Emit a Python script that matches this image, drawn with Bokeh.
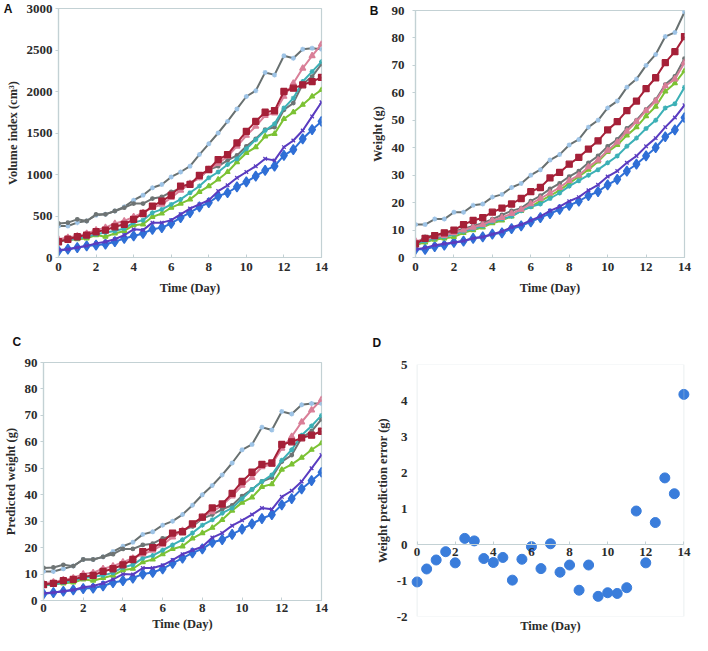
from bokeh.plotting import figure
from bokeh.models import Range1d, FixedTicker, LinearAxis, Title, BoxAnnotation
from bokeh.layouts import column, row
from bokeh.embed import file_html
from bokeh.resources import INLINE

# ---------------- data ----------------
days = [0, 0.5, 1, 1.5, 2, 2.5, 3, 3.5, 4, 4.5, 5, 5.5, 6, 6.5, 7, 7.5, 8, 8.5, 9, 9.5,
        10, 10.5, 11, 11.5, 12, 12.5, 13, 13.5, 14]
x_ticks = [0, 2, 4, 6, 8, 10, 12, 14]
vol_ticks = [0, 500, 1000, 1500, 2000, 2500, 3000]
wt_ticks = [0, 10, 20, 30, 40, 50, 60, 70, 80, 90]
err_ticks = [-2, -1, 0, 1, 2, 3, 4, 5]

# Panel A: volume index (cm3)
vol_gray_star = [380, 380, 420, 440, 510, 520, 560, 610, 690, 750, 840, 880, 970, 1030, 1100, 1240, 1370, 1500, 1640, 1790,
                 1940, 2010, 2230, 2200, 2430, 2400, 2510, 2520, 2510]
vol_gray_dot = [410, 420, 460, 440, 520, 520, 560, 600, 650, 650, 710, 730, 790, 830, 900, 960, 1060, 1100, 1170, 1230,
                1340, 1430, 1540, 1570, 1780, 1860, 2090, 2180, 2330]
vol_red = [190, 220, 250, 270, 310, 330, 370, 400, 460, 530, 620, 680, 750, 860, 880, 990, 1060, 1180, 1240, 1380,
           1520, 1640, 1750, 1770, 2000, 2040, 2080, 2120, 2170]
vol_pink = [220, 240, 260, 290, 330, 360, 410, 440, 490, 540, 600, 640, 720, 810, 890, 960, 1060, 1130, 1220, 1340,
            1470, 1580, 1710, 1740, 1940, 2100, 2280, 2430, 2570]
vol_teal = [200, 210, 230, 250, 280, 300, 320, 350, 420, 450, 540, 580, 640, 700, 780, 860, 960, 1030, 1120, 1190,
            1310, 1420, 1530, 1610, 1800, 1920, 2120, 2240, 2360]
vol_green = [200, 210, 220, 230, 270, 250, 290, 320, 390, 400, 490, 530, 600, 650, 700, 790, 860, 940, 1030, 1150,
             1260, 1330, 1460, 1490, 1670, 1750, 1840, 1940, 2020]
vol_purple = [90, 100, 120, 140, 170, 190, 220, 270, 340, 330, 420, 420, 450, 520, 590, 640, 690, 800, 870, 960,
              1030, 1100, 1190, 1170, 1330, 1410, 1530, 1700, 1870]
vol_blue = [80, 100, 120, 140, 150, 160, 190, 230, 260, 290, 340, 360, 410, 480, 540, 610, 660, 740, 780, 850,
            910, 980, 1050, 1100, 1230, 1300, 1430, 1540, 1640]

# Panel B: measured weight (g)
wt_gray_star = [12, 12, 14, 14, 16.5, 16.5, 19, 19.5, 22, 23, 25.5, 27, 30, 32, 35.5, 37.5, 41, 43, 47.5, 50,
                54.5, 57, 62, 65, 70, 74, 80.5, 82, 89.5]
wt_red = [5, 7, 8, 9, 10, 12, 13.5, 14.5, 16.5, 18, 19.5, 21.5, 24, 25.5, 29, 31, 34, 36.5, 39.5, 42.5,
          46.5, 49.5, 53.5, 57, 61.5, 65.5, 71, 75, 80.5]
wt_pink = [6, 6.5, 7.5, 8, 9, 10, 11, 12, 13.5, 14.5, 16, 17.5, 19.5, 21.5, 23.5, 25.5, 28, 30, 33, 35.5,
           39, 42, 46, 49.5, 53.5, 57, 62.5, 65, 71]
wt_gray_dot = [5, 7.5, 8, 8.5, 9.5, 10.5, 11.5, 12.5, 14, 15.5, 17, 18, 20.5, 22.5, 25, 27, 29.5, 31.5, 34.5, 37,
               40.5, 43, 47, 50, 54, 57.5, 63, 66, 72.5]
wt_green = [4.5, 5.5, 6.5, 7, 7.5, 9, 10, 11, 12.5, 13.5, 15, 17, 18.5, 20.5, 22.5, 24.5, 27, 29.5, 32, 35,
            38.5, 41, 44.5, 47.5, 51.5, 55, 60.5, 63.5, 68]
wt_teal = [5, 6, 7, 7.5, 8.5, 9.5, 10.5, 11.5, 13, 14, 15, 17, 18.5, 19.5, 21.5, 23.5, 26, 28, 30, 32,
           34.5, 37, 40.5, 43.5, 47, 50, 54.5, 56, 62]
wt_purple = [3, 3.5, 4.5, 5, 5.5, 6, 7, 7.5, 8.5, 9.5, 11, 12, 13.5, 15, 17, 18.5, 20.5, 22, 24.5, 26.5,
             29.5, 31.5, 34.5, 37, 40.5, 43.5, 47.5, 51, 55.5]
wt_blue = [3, 3, 4, 4.5, 5.5, 6, 7, 7.5, 8.5, 9, 10.5, 11.5, 13, 14.5, 16, 17.5, 19, 20.5, 22.5, 24,
           26.5, 28.5, 31.5, 34, 37, 40, 44, 46.5, 51]

# Panel C: predicted weight (g)
pw_gray_star = [11, 11, 12, 13, 15.5, 15.5, 16.5, 18.5, 20.5, 22, 25, 26, 28.5, 30, 32.5, 36, 40, 43.5, 47.5, 52,
                57, 59, 65.5, 64.5, 71.5, 70.5, 74, 74.5, 74.5]
pw_gray_dot = [12.3, 12.5, 13.5, 13, 15.5, 15.5, 16.5, 17.5, 19.5, 19.5, 21, 21.5, 23.5, 24.5, 26.5, 28, 31, 32.5, 34.5, 36,
               39.5, 42, 45, 46.5, 52.5, 55, 61.5, 64, 68.5]
pw_red = [6, 6.5, 7.5, 8, 9, 9.5, 11, 12, 13.5, 15.5, 18.5, 20, 22, 25.5, 26, 29, 31.5, 35, 36.5, 40.5,
          45, 48.5, 51.5, 52, 59, 60, 61.5, 62.5, 64]
pw_pink = [6.5, 7, 7.8, 8.5, 10, 10.5, 12, 13, 14.5, 16, 17.5, 19, 21, 24, 26.5, 28.5, 31.5, 33.5, 36, 39.5,
           43.5, 46.5, 50.5, 51.5, 57.5, 62, 67.5, 72, 76]
pw_teal = [6, 6, 6.8, 7.5, 8.5, 9, 9.5, 10.5, 12.5, 13.5, 16, 17, 19, 21, 23, 25.5, 28.5, 30.5, 33, 35,
           38.5, 42, 45, 47.5, 53, 57, 62.5, 66, 70]
pw_green = [5.8, 6, 6.5, 6.8, 8, 7.5, 8.5, 9.5, 11.5, 12, 14.5, 15.5, 17.5, 19.5, 20.5, 23.5, 25.5, 27.5, 30.5, 34,
            37, 39, 43, 44, 49.5, 51.5, 54, 57, 59.5]
pw_purple = [2.7, 3, 3.5, 4, 5, 5.5, 6.5, 8, 10, 9.8, 12.3, 12.3, 13.3, 15.3, 17.5, 19, 20.3, 23.8, 25.5, 28.3,
             30.3, 32.5, 35, 34.5, 39.2, 41.5, 45, 50, 55]
pw_blue = [2.5, 3, 3.5, 4, 4.5, 4.7, 5.5, 6.8, 7.5, 8.5, 10, 10.6, 12, 14, 16, 18, 19.5, 22, 23, 25,
           27, 29, 31, 32.5, 36.2, 38.5, 42.2, 45.3, 48.5]

# Panel D: weight prediction error (g)
err = [-1.04, -0.68, -0.43, -0.2, -0.51, 0.17, 0.1, -0.39, -0.5, -0.36, -0.99, -0.41, -0.06, -0.67, 0.02, -0.77,
       -0.57, -1.27, -0.57, -1.44, -1.34, -1.36, -1.2, 0.93, -0.51, 0.61, 1.85, 1.41, 4.17]

# ---------------- styling ----------------
FRAME = "#C3D1D4"
TXT = "#2b2b2b"
SERIF = "Liberation Serif"
SANS = "Liberation Sans"
TICK_FS = "13px"
TITLE_FS = "12.5px"
LETTER_FS = "12px"

# (line color, marker, size, marker fill, marker line)
STY = {
    "gray_star": ("#687070", "asterisk", 5, "#9DC3E6", "#9DC3E6"),
    "gray_dot": ("#6E7474", "circle", 3.5, "#6E7474", "#6E7474"),
    "blue": ("#2F6FD6", "diamond", 10, "#2F6FD6", "#2F6FD6"),
    "purple": ("#5A3CC0", "x", 5, "#5A3CC0", "#5A3CC0"),
    "green": ("#7CC234", "triangle", 5, "#7CC234", "#7CC234"),
    "teal": ("#3CB0B6", "asterisk", 5, "#3CB0B6", "#3CB0B6"),
    "pink": ("#D97F98", "triangle", 6, "#D97F98", "#D97F98"),
    "red": ("#A52038", "square", 6, "#A52038", "#A52038"),
}
ORDER = ["gray_star", "gray_dot", "blue", "purple", "green", "teal", "pink", "red"]


def style_axis(ax):
    ax.axis_line_color = FRAME
    ax.axis_line_width = 1.2
    ax.major_tick_line_color = FRAME
    ax.minor_tick_line_color = None
    ax.major_label_text_font = SERIF
    ax.major_label_text_font_style = "bold"
    ax.major_label_text_font_size = TICK_FS
    ax.major_label_text_color = TXT
    ax.axis_label_text_font = SERIF
    ax.axis_label_text_font_style = "bold"
    ax.axis_label_text_font_size = TITLE_FS
    ax.axis_label_text_color = TXT


def base_fig(w, h, xr, ymin, ymax, yticks, ylabel, bl, br, bt, bb):
    p = figure(width=w, height=h, x_range=Range1d(*xr), y_range=Range1d(ymin, ymax),
               output_backend="svg", toolbar_location=None,
               min_border_left=bl, min_border_right=br, min_border_top=bt, min_border_bottom=bb)
    p.grid.visible = False
    p.outline_line_color = FRAME
    p.outline_line_width = 1.2
    p.xaxis.ticker = FixedTicker(ticks=x_ticks)
    p.yaxis.ticker = FixedTicker(ticks=yticks)
    p.yaxis.major_label_overrides = {t: str(t) for t in yticks}
    style_axis(p.xaxis[0])
    style_axis(p.yaxis[0])
    p.yaxis.major_tick_out = 3
    p.yaxis.major_tick_in = 0
    p.yaxis.major_label_standoff = 5
    p.yaxis.axis_label_standoff = 4
    p.xaxis.major_tick_in = 3
    p.xaxis.major_tick_out = 0
    p.xaxis.major_label_standoff = 5
    p.xaxis.axis_label_standoff = 7
    p.yaxis.axis_label = ylabel
    return p


def letter_axis(p, txt, ytop, standoff):
    ax = LinearAxis(ticker=FixedTicker(ticks=[ytop]), major_label_overrides={ytop: txt},
                    axis_line_color=None, major_tick_line_color=None, minor_tick_line_color=None,
                    major_tick_out=0, major_tick_in=0, major_label_standoff=standoff,
                    major_label_text_font=SANS, major_label_text_font_style="bold",
                    major_label_text_font_size=LETTER_FS, major_label_text_color="#111111")
    p.add_layout(ax, "left")


def letter_title(p, txt, offset, standoff):
    p.add_layout(Title(text=txt, align="left", offset=offset, standoff=standoff,
                       text_font=SANS, text_font_style="bold", text_font_size=LETTER_FS,
                       text_color="#111111"), "above")


def add_series(p, data):
    for key in ORDER:
        c, m, s, fc, lc = STY[key]
        p.line(days, data[key], line_color=c, line_width=2)
        p.scatter(days, data[key], marker=m, size=s, fill_color=fc, line_color=lc, line_width=1.3)


# Panel A
pA = base_fig(342, 318, (0, 14), 0, 3000, vol_ticks, "Volume index (cm³)", 53, 21, 8, 61)
pA.xaxis.axis_label = "Time (Day)"
pA.yaxis[0].major_label_standoff = 3
add_series(pA, {"gray_star": vol_gray_star, "gray_dot": vol_gray_dot, "blue": vol_blue, "purple": vol_purple,
                "green": vol_green, "teal": vol_teal, "pink": vol_pink, "red": vol_red})
letter_axis(pA, "A", 3000, -10)

# Panel B
pB = base_fig(350, 318, (0, 14), 0, 90, wt_ticks, "Weight (g)", 73, 8, 10, 61)
pB.xaxis.axis_label = "Time (Day)"
pB.yaxis[0].major_label_standoff = 8
add_series(pB, {"gray_star": wt_gray_star, "gray_dot": wt_gray_dot, "blue": wt_blue, "purple": wt_purple,
                "green": wt_green, "teal": wt_teal, "pink": wt_pink, "red": wt_red})
letter_axis(pB, "B", 90, -11)

# Panel C
pC = base_fig(342, 317, (0, 14), 0, 90, wt_ticks, "Predicted weight (g)", 41, 21, 42, 35)
pC.xaxis.axis_label = "Time (Day)"
pC.xaxis.major_label_standoff = 3
pC.xaxis.axis_label_standoff = 2
pC.yaxis[0].major_label_standoff = 3
add_series(pC, {"gray_star": pw_gray_star, "gray_dot": pw_gray_dot, "blue": pw_blue, "purple": pw_purple,
                "green": pw_green, "teal": pw_teal, "pink": pw_pink, "red": pw_red})
letter_title(pC, "C", -31, 28)

# Panel D: frame slightly wider than the 0..14 box so the end tick labels are not cut
pD = base_fig(350, 317, (-0.4, 14.4), -2, 5, err_ticks, "Weight prediction error (g)", 67, 1, 44, 17)
pD.outline_line_color = None
pD.yaxis.axis_line_color = None
pD.yaxis.major_tick_line_color = None
pD.yaxis.major_tick_out = 0
pD.yaxis.major_label_standoff = 2
pD.xaxis.fixed_location = 0
pD.xaxis.bounds = (0, 14)
pD.xaxis.major_label_standoff = 3
pD.add_layout(BoxAnnotation(left=0, right=14, bottom=-2, top=5, fill_color=None,
                            line_color=FRAME, line_width=1.2))
extra = LinearAxis(ticker=FixedTicker(ticks=[]), axis_label="Time (Day)", axis_line_color=None,
                   major_tick_out=0, major_tick_in=0, minor_tick_line_color=None,
                   major_label_standoff=0, axis_label_standoff=2,
                   axis_label_text_font=SERIF, axis_label_text_font_style="bold",
                   axis_label_text_font_size=TITLE_FS, axis_label_text_color=TXT)
pD.add_layout(extra, "below")
pD.scatter(days, err, marker="circle", size=10, fill_color="#3A7DDB", line_color="#3A7DDB")
letter_title(pD, "D", -37, 30)

layout = column(row(column(pA), column(pB)), row(column(pC), column(pD)))

with open("out.html", "w") as f:
    f.write(file_html(layout, INLINE))
